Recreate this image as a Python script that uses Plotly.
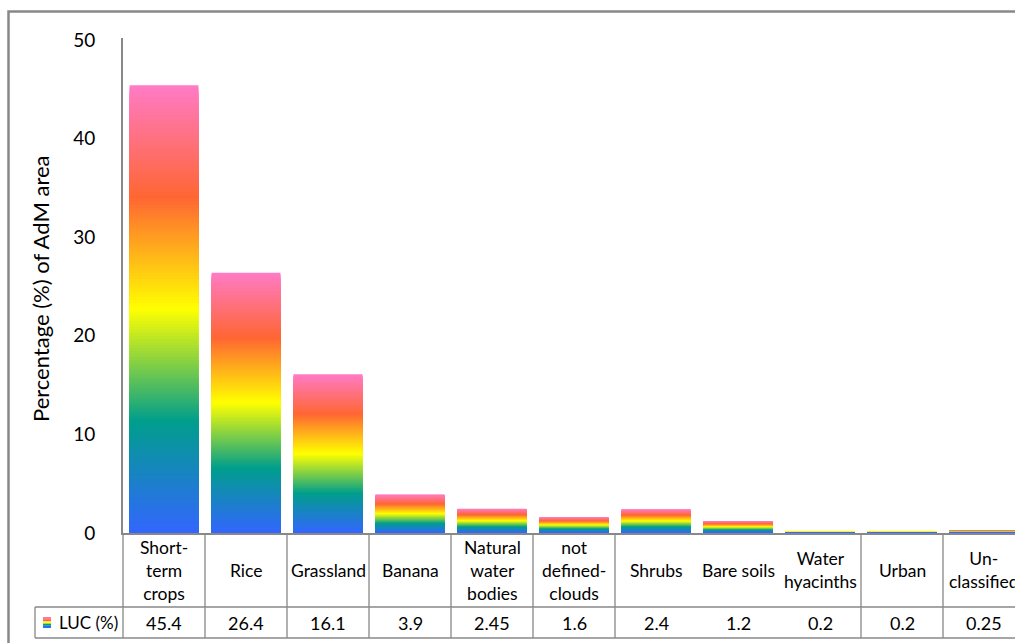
import plotly.graph_objects as go
from plotly.colors import sample_colorscale

# Land-use classes and their share of the AdM area
categories = ["Short-term crops", "Rice", "Grassland", "Banana", "Natural water bodies",
              "not defined-clouds", "Shrubs", "Bare soils", "Water hyacinths", "Urban",
              "Un-classified"]
cat_labels = ["Short-<br>term<br>crops", "Rice", "Grassland", "Banana", "Natural<br>water<br>bodies",
              "not<br>defined-<br>clouds", "Shrubs", "Bare soils", "Water<br>hyacinths", "Urban",
              "Un-<br>classified"]
values = [45.4, 26.4, 16.1, 3.9, 2.45, 1.6, 2.4, 1.2, 0.2, 0.2, 0.25]
value_labels = ["45.4", "26.4", "16.1", "3.9", "2.45", "1.6", "2.4", "1.2", "0.2", "0.2", "0.25"]
series_name = "LUC (%)"
y_ticks = [0, 10, 20, 30, 40, 50]
y_title = "Percentage (%) of AdM area"

# rainbow fill used inside each bar (bottom -> top)
rainbow = [[0.0, "#3366FF"], [0.25, "#009E8C"], [0.5, "#FFFF00"],
           [0.75, "#FF6633"], [1.0, "#FF7BC6"]]

FONT = "Lato"
GRAY = "#888888"
W, H = 1015, 643
L, T, B = 123, 38, 110
plot_w = W - L
plot_h = H - T - B
col_px = 82
x_min = -0.5
x_max = x_min + plot_w / col_px
y_max = 50.2


def xp(px):
    return (px - L) / plot_w


def yp(py):
    return (H - B - py) / plot_h


def x_paper(xv):
    return (xv - x_min) / (x_max - x_min)


# each bar is painted as nested slices, tallest first, so the colour runs
# from blue at the base to pink at the top of every bar
N = 150
slice_cols = sample_colorscale(rainbow, [(k - 0.5) / N for k in range(1, N + 1)])
xs, ys, cs = [], [], []
for k in range(N, 0, -1):
    for i, v in enumerate(values):
        xs.append(i)
        ys.append(v * k / N)
        cs.append(slice_cols[k - 1])

fig = go.Figure(go.Bar(
    x=xs, y=ys, width=0.84,
    marker=dict(color=cs, line=dict(width=0)),
    hoverinfo="skip", showlegend=False,
))

shapes = []
line = dict(color=GRAY, width=1.3)
# data table grid
row_mid_px = 607
row_bot_px = 638
skip = {7, 8}
for b in range(len(categories)):
    if b in skip:
        continue
    xb = x_paper(b - 0.5)
    shapes.append(dict(type="line", xref="paper", yref="paper", x0=xb, x1=xb,
                       y0=0, y1=yp(row_bot_px), line=line))
for py in (row_mid_px, row_bot_px):
    shapes.append(dict(type="line", xref="paper", yref="paper", x0=xp(35), x1=1.05,
                       y0=yp(py), y1=yp(py), line=line))
shapes.append(dict(type="line", xref="paper", yref="paper", x0=xp(35), x1=xp(35),
                   y0=yp(row_mid_px), y1=yp(row_bot_px), line=line))

# legend key swatch (rainbow stripes)
key_cols = sample_colorscale(rainbow, [0.95, 0.75, 0.5, 0.25, 0.05])
for j, c in enumerate(key_cols):
    top = 617 + j * 2.2
    shapes.append(dict(type="rect", xref="paper", yref="paper", x0=xp(43), x1=xp(51),
                       y0=yp(top + 2.2), y1=yp(top), fillcolor=c, line=dict(width=0)))

# outer chart frame
shapes.append(dict(type="rect", xref="paper", yref="paper", x0=xp(8.5), x1=1.05,
                   y0=-0.4, y1=yp(11.5), line=dict(color=GRAY, width=2.5)))

annotations = []
for i, (lab, val) in enumerate(zip(cat_labels, value_labels)):
    annotations.append(dict(x=i, y=yp(570), xref="x", yref="paper", text=lab,
                            showarrow=False, font=dict(family=FONT, size=17.5, color="black"),
                            xanchor="center", yanchor="middle"))
    annotations.append(dict(x=i, y=yp(622.5), xref="x", yref="paper", text=val,
                            showarrow=False, font=dict(family=FONT, size=18, color="black"),
                            xanchor="center", yanchor="middle"))
annotations.append(dict(x=xp(57), y=yp(622.5), xref="paper", yref="paper", text=series_name,
                        showarrow=False, font=dict(family=FONT, size=17, color="black"),
                        xanchor="left", yanchor="middle"))
annotations.append(dict(x=xp(40), y=yp(289), xref="paper", yref="paper", text=y_title,
                        textangle=-90, showarrow=False,
                        font=dict(family=FONT, size=22, color="black"),
                        xanchor="center", yanchor="middle"))

fig.update_layout(
    width=W, height=H,
    margin=dict(l=L, r=0, t=T, b=B),
    paper_bgcolor="white", plot_bgcolor="white",
    barmode="overlay",
    xaxis=dict(range=[x_min, x_max], showticklabels=False, ticks="", showgrid=False,
               zeroline=False, showline=True, linecolor=GRAY, linewidth=2),
    yaxis=dict(range=[0, y_max], tickvals=y_ticks, ticks="", showgrid=False, zeroline=False,
               showline=True, linecolor=GRAY, linewidth=2,
               tickfont=dict(family=FONT, size=19, color="black"), ticklabelstandoff=22),
    shapes=shapes,
    annotations=annotations,
)

fig.write_html("out.html")
